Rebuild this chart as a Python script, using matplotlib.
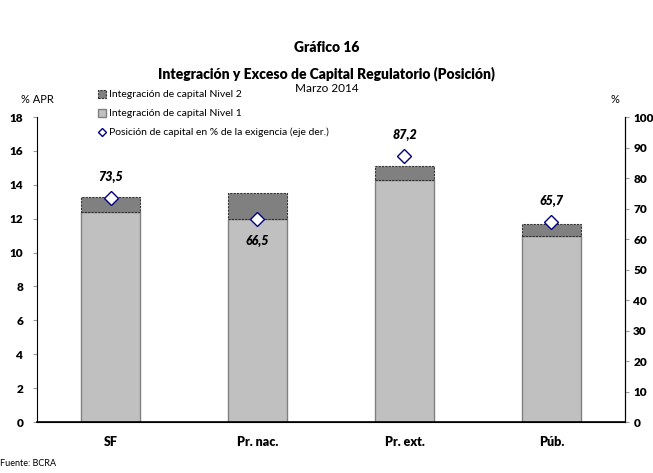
import matplotlib.pyplot as plt
import numpy as np

# Data
categorias = ["SF", "Pr. nac.", "Pr. ext.", "Púb."]
nivel1 = [12.4, 12.0, 14.3, 11.0]
nivel2 = [0.9, 1.5, 0.8, 0.7]
posicion = [73.5, 66.5, 87.2, 65.7]
etiquetas = ["73,5", "66,5", "87,2", "65,7"]
ticks_izq = list(range(0, 19, 2))
ticks_der = list(range(0, 101, 10))

plt.rcParams['font.family'] = ['Lato', 'DejaVu Sans']

fig = plt.figure(figsize=(6.53, 4.73), dpi=100)
ax = fig.add_axes([0.0567, 0.1078, 0.9003, 0.6448])
ax2 = ax.twinx()

x = np.arange(len(categorias))
w = 0.4
b1 = ax.bar(x, nivel1, w, color='#c0c0c0', edgecolor='#808080', linewidth=1.0,
            label='Integración de capital Nivel 1', zorder=2)
b2 = ax.bar(x, nivel2, w, bottom=nivel1, color='#808080', edgecolor='#333333',
            linewidth=0.8, linestyle=(0, (2, 1)), label='Integración de capital Nivel 2', zorder=2)

ax2.plot(x, posicion, linestyle='none', marker='D', markersize=7, markerfacecolor='white',
         markeredgecolor='#000080', markeredgewidth=1.0,
         label='Posición de capital en % de la exigencia (eje der.)', zorder=5)

for i, (v, t) in enumerate(zip(posicion, etiquetas)):
    dy = -16 if i == 1 else 15
    ax2.annotate(t, (x[i], v), xytext=(0, dy), textcoords='offset points', ha='center',
                 va='center', fontsize=9, fontweight='heavy', fontstyle='italic')

ax.set_xlim(-0.5, 3.5)
ax.set_ylim(0, 18)
ax.set_yticks(ticks_izq, labels=[str(t) for t in ticks_izq], fontweight='heavy', fontsize=8.5)
ax2.set_ylim(0, 100)
ax2.set_yticks(ticks_der, labels=[str(t) for t in ticks_der], fontweight='heavy', fontsize=8.5)
ax.set_xticks(x, labels=categorias, fontsize=9, fontweight='heavy')
ax.tick_params(axis='x', length=0, pad=10)
ax.tick_params(axis='y', length=3, color='#999999', pad=7)
ax2.tick_params(axis='y', length=3, color='#999999', pad=3)

for a in (ax, ax2):
    a.spines['top'].set_visible(False)
ax.spines['left'].set_color('black')
ax2.spines['right'].set_color('black')
ax2.spines['left'].set_visible(False)
ax.spines['bottom'].set_linewidth(1.2)

fig.text(0.057, 0.783, "% APR", fontsize=8, ha='center')
fig.text(0.942, 0.783, "%", fontsize=8, ha='center')

handles = [b2, b1, ax2.get_lines()[0]]
leg = fig.legend(handles=handles, labels=[h.get_label() for h in handles],
                 loc='upper left', bbox_to_anchor=(0.135, 0.83), frameon=False,
                 fontsize=7.5, handlelength=0.8, handleheight=0.8, handletextpad=0.3,
                 labelspacing=0.9, markerscale=0.6)

fig.text(0.5, 0.89, "Gráfico 16", fontsize=10, fontweight='heavy', ha='center')
fig.text(0.5, 0.834, "Integración y Exceso de Capital Regulatorio (Posición)", fontsize=10,
         fontweight='heavy', ha='center')
fig.text(0.5, 0.805, "Marzo 2014", fontsize=8.5, ha='center')
fig.text(0.0, 0.015, "Fuente: BCRA", fontsize=6.5)

fig.savefig("out.png", dpi=100)
